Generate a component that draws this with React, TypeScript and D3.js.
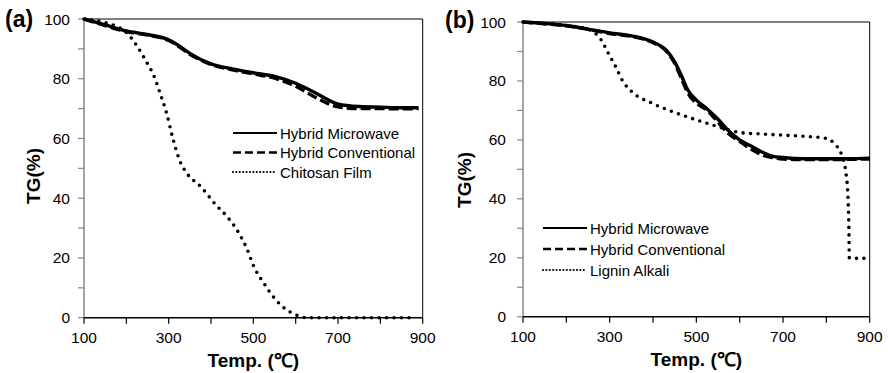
import * as d3 from 'd3'

type Pt = [number, number]

// panel (a)
const aMicrowave: Pt[] = [
  [100, 100], [150, 98], [200, 96], [250, 94.8], [300, 93], [330, 90.5], [350, 88.5], [400, 85],
  [450, 83.3], [500, 82], [550, 80.8], [600, 78.5], [650, 75], [700, 71.5], [750, 70.7],
  [800, 70.5], [850, 70.3], [890, 70.3],
]
const aConventional: Pt[] = [
  [100, 100], [150, 97.8], [200, 95.8], [250, 94.6], [300, 92.8], [330, 90.2], [350, 88.2], [400, 84.8],
  [450, 83], [500, 81.6], [550, 80.2], [600, 77.5], [650, 73.5], [700, 70.6], [750, 70],
  [800, 70], [850, 69.9], [890, 70],
]
const aChitosan: Pt[] = [
  [100, 100], [150, 98.8], [200, 95.5], [225, 91], [250, 85], [265, 81], [280, 75], [295, 68.5],
  [310, 60], [325, 53], [345, 48], [375, 44], [410, 38], [440, 33.5], [465, 28.5], [485, 23],
  [500, 17.5], [525, 11.5], [550, 6.5], [575, 3], [600, 1], [625, 0], [750, 0], [880, 0],
]

// panel (b)
const bMicrowave: Pt[] = [
  [100, 100], [150, 99.5], [200, 98.8], [250, 97.6], [300, 96.3], [350, 95.3], [400, 93.2],
  [430, 90.5], [450, 86.5], [465, 82], [480, 77], [500, 73.5], [525, 70.5], [550, 67], [575, 63],
  [600, 60], [625, 58], [650, 56], [675, 54.5], [700, 54], [750, 53.6], [800, 53.6], [850, 53.6],
  [900, 53.8],
]
const bConventional: Pt[] = [
  [100, 100], [150, 99.4], [200, 98.7], [250, 97.5], [300, 96.1], [350, 95.1], [400, 93],
  [430, 90.2], [450, 86], [465, 81], [480, 76], [500, 72.5], [525, 70], [550, 66], [575, 62],
  [600, 59.5], [625, 57], [650, 55], [675, 54], [700, 53.5], [750, 53.3], [800, 53.3], [850, 53.4],
  [900, 53.5],
]
const bLignin: Pt[] = [
  [100, 100], [150, 99.5], [200, 98.8], [250, 97.5], [280, 94], [300, 88.5], [315, 84.5],
  [330, 80], [350, 76.5], [400, 72.3], [450, 69.3], [500, 66.8], [550, 64.5], [600, 62.5],
  [650, 62], [700, 61.6], [750, 61.2], [800, 60.5], [820, 58.5], [835, 55], [845, 49], [850, 40],
  [852, 30], [853, 20], [870, 19.8], [900, 19.8],
]

const xTickLabels = [100, 300, 500, 700, 900]
const xTicks = [100, 200, 300, 400, 500, 600, 700, 800, 900]
const yTickLabels = [0, 20, 40, 60, 80, 100]
const yTicks = [0, 10, 20, 30, 40, 50, 60, 70, 80, 90, 100]

const namesA = ['Hybrid Microwave', 'Hybrid Conventional', 'Chitosan Film']
const namesB = ['Hybrid Microwave', 'Hybrid Conventional', 'Lignin Alkali']

const FONT = 'Liberation Sans, Arial, sans-serif'

type Box = { left: number; top: number; right: number; bottom: number }

const styles = [
  { width: 3.4, dash: undefined as string | undefined, cap: 'butt', lw: 2, ldash: undefined as string | undefined, lcap: 'butt' },
  { width: 3.4, dash: '10 4', cap: 'butt', lw: 2.4, ldash: '8 4', lcap: 'butt' },
  { width: 3.6, dash: '0 7.5', cap: 'round', lw: 2.2, ldash: '0 3.4', lcap: 'round' },
]

function Panel({ box, series, names, label, labelX, labelY, legendX, legendY, legendGap, yLabelEnd, yTitleX, yTitleY }: {
  box: Box
  series: Pt[][]
  names: string[]
  label: string
  labelX: number
  labelY: number
  legendX: number
  legendY: number
  legendGap: number
  yLabelEnd: number
  yTitleX: number
  yTitleY: number
}) {
  const x = d3.scaleLinear().domain([100, 900]).range([box.left, box.right])
  const y = d3.scaleLinear().domain([0, 100]).range([box.bottom, box.top])
  const line = d3.line<Pt>().x(d => x(d[0])).y(d => y(d[1])).curve(d3.curveMonotoneX)
  const order = [1, 0, 2]

  return (
    <g>
      <text x={labelX} y={labelY} fontFamily={FONT} fontWeight="bold" fontSize={23}>{label}</text>
      {/* frame */}
      <line x1={box.left} x2={box.right} y1={box.top} y2={box.top} stroke="#000" strokeWidth={1} />
      <line x1={box.right} x2={box.right} y1={box.top} y2={box.bottom} stroke="#000" strokeWidth={1} />
      <line x1={box.left} x2={box.left} y1={box.top} y2={box.bottom} stroke="#888" strokeWidth={1.5} />
      {yTicks.map(t => (
        <line key={'yt' + t} x1={box.left - 6} x2={box.left} y1={y(t)} y2={y(t)} stroke="#888" strokeWidth={1.2} />
      ))}
      {yTickLabels.map(t => (
        <text key={'yl' + t} x={yLabelEnd} y={y(t) + 5.5} textAnchor="end" fontFamily={FONT} fontSize={15.5}>{t}</text>
      ))}
      {series.map((_, k) => {
        const i = order[k]
        const s = styles[i]
        return (
          <path key={'s' + i} d={line(series[i]) ?? ''} fill="none" stroke="#000" strokeWidth={s.width}
            strokeDasharray={s.dash} strokeLinecap={s.cap as any} strokeLinejoin="round" />
        )
      })}
      <line x1={box.left} x2={box.right} y1={box.bottom} y2={box.bottom} stroke="#000" strokeWidth={1.5} />
      {xTicks.map(t => (
        <line key={'xt' + t} x1={x(t)} x2={x(t)} y1={box.bottom} y2={box.bottom + 6} stroke="#000" strokeWidth={1.2} />
      ))}
      {xTickLabels.map(t => (
        <text key={'xl' + t} x={x(t)} y={box.bottom + 25} textAnchor="middle" fontFamily={FONT} fontSize={15.5}>{t}</text>
      ))}
      <text x={(box.left + box.right) / 2} y={box.bottom + 49} textAnchor="middle" fontFamily={FONT} fontWeight="bold" fontSize={19}>Temp. (℃)</text>
      <text transform={`translate(${yTitleX},${yTitleY}) rotate(-90)`} textAnchor="middle" fontFamily={FONT} fontWeight="bold" fontSize={19}>TG(%)</text>
      {names.map((n, i) => {
        const s = styles[i]
        const ly = legendY + i * legendGap
        return (
          <g key={'lg' + i}>
            <line x1={legendX} x2={legendX + 44} y1={ly} y2={ly} stroke="#000" strokeWidth={s.lw}
              strokeDasharray={s.ldash} strokeLinecap={s.lcap as any} />
            <text x={legendX + 47} y={ly + 5.5} fontFamily={FONT} fontSize={15}>{n}</text>
          </g>
        )
      })}
    </g>
  )
}

export default function App() {
  return (
    <svg width={888} height={373} style={{ position: 'absolute', left: 0, top: 0, background: '#fff' }}>
      <rect width={888} height={373} fill="#fff" />
      <Panel
        box={{ left: 84, top: 19, right: 422.7, bottom: 317.7 }}
        series={[aMicrowave, aConventional, aChitosan]}
        names={namesA}
        label="(a)"
        labelX={5}
        labelY={27}
        legendX={233}
        legendY={133}
        legendGap={19.5}
        yLabelEnd={70}
        yTitleX={40}
        yTitleY={176}
      />
      <Panel
        box={{ left: 523, top: 22, right: 869.7, bottom: 316.7 }}
        series={[bMicrowave, bConventional, bLignin]}
        names={namesB}
        label="(b)"
        labelX={445}
        labelY={28}
        legendX={543}
        legendY={228}
        legendGap={21}
        yLabelEnd={506}
        yTitleX={471}
        yTitleY={180}
      />
    </svg>
  )
}
